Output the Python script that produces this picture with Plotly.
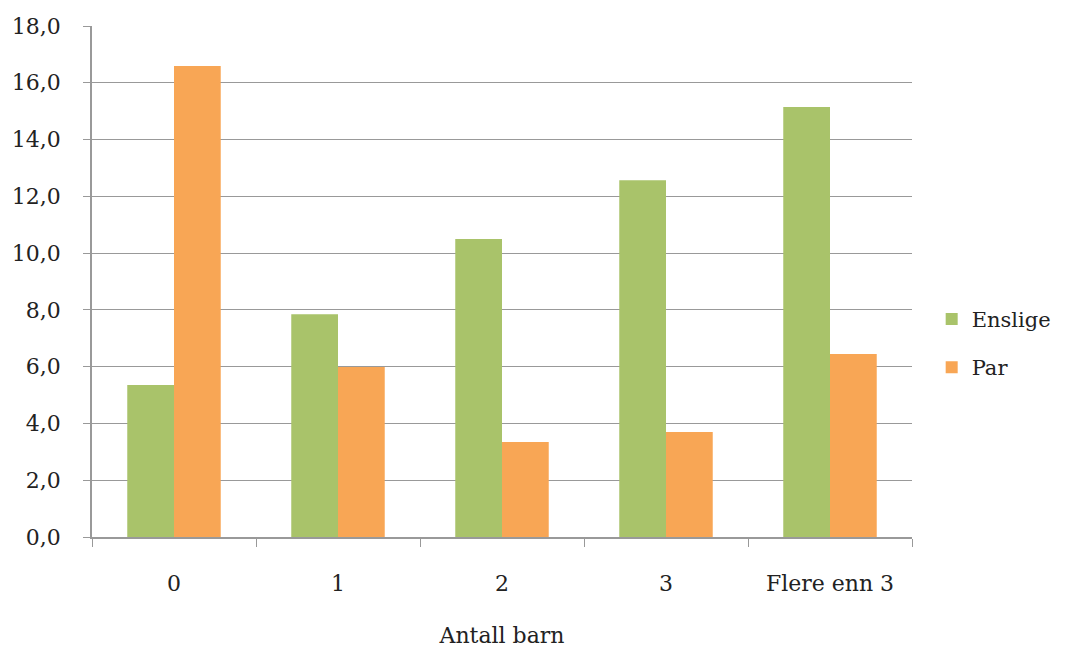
import plotly.graph_objects as go

kategorier = ["0", "1", "2", "3", "Flere enn 3"]
enslige = [5.35, 7.85, 10.5, 12.57, 15.15]
par = [16.59, 5.99, 3.35, 3.7, 6.45]

font = "DejaVu Serif"

trace1 = go.Bar(x=kategorier, y=enslige, name="Enslige", legendgroup="a",
                marker=dict(color="#a9c36a", line=dict(width=0)))
trace2 = go.Bar(x=kategorier, y=par, name="Par", legendgroup="b",
                marker=dict(color="#f8a655", line=dict(width=0)))

# siden har 8px marg i body, saa figuren er litt mindre enn vinduet
layout = dict(
    width=1061, height=640,
    margin=dict(l=84, r=157, t=18, b=111),
    paper_bgcolor="white", plot_bgcolor="white",
    font=dict(family=font, size=22, color="#222"),
    separators=", ",
    barmode="group", bargap=0.43, bargroupgap=0,
    xaxis=dict(
        title=dict(text="Antall barn", standoff=33, font=dict(size=22)),
        tickfont=dict(size=22),
        showline=True, linecolor="#999", linewidth=1.5,
        ticks="outside", tickson="boundaries", ticklen=8, tickcolor="#999",
        ticklabelstandoff=26,
        showgrid=False, automargin=False,
    ),
    yaxis=dict(
        range=[0, 18], dtick=2, tickformat=".1f",
        tickfont=dict(size=22),
        showline=True, linecolor="#999", linewidth=1.5,
        ticks="outside", ticklen=7, tickcolor="#999",
        ticklabelstandoff=18,
        showgrid=True, gridcolor="#999", gridwidth=1,
        zeroline=False, automargin=False,
    ),
    legend=dict(x=1.024, y=0.379, yanchor="middle", xanchor="left",
                font=dict(size=21), tracegroupgap=18, itemwidth=30),
    showlegend=True,
)

fig = go.Figure(data=[trace1, trace2], layout=layout)
fig.write_html("out.html")
